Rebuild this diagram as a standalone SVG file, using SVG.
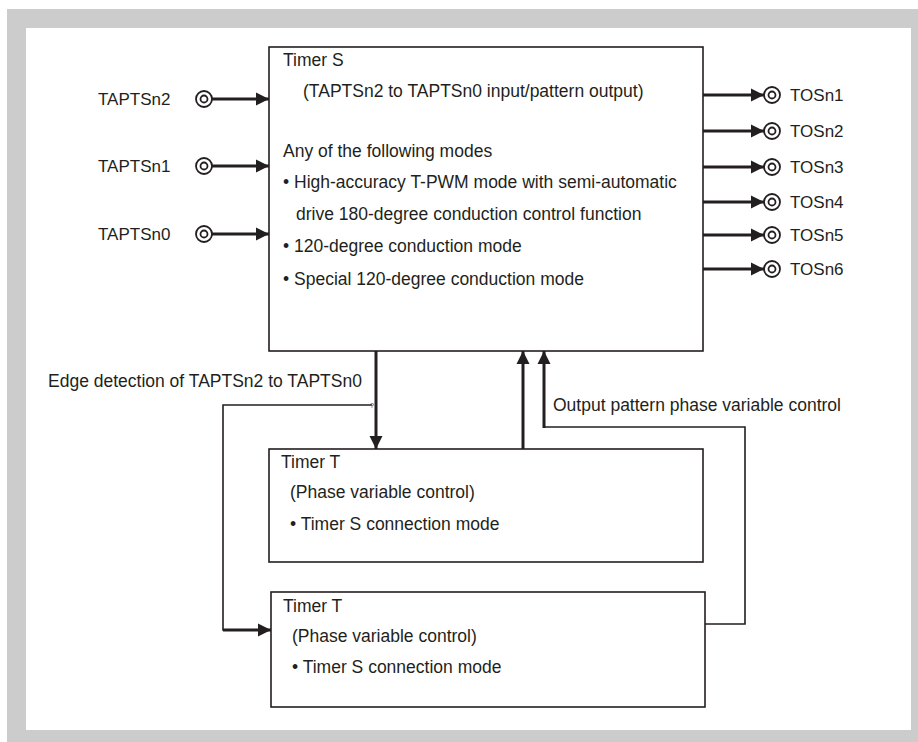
<svg xmlns="http://www.w3.org/2000/svg" width="918" height="742" viewBox="0 0 918 742">
<style>
.t{font-family:"Liberation Sans",Arial,sans-serif;font-size:17.5px;fill:#231f20}
.p{font-family:"Liberation Sans",Arial,sans-serif;font-size:17px;fill:#231f20}
.box{fill:#fff;stroke:#231f20;stroke-width:1.6}
.thick{stroke:#231f20;stroke-width:3;fill:none}
.thin{stroke:#231f20;stroke-width:1.6;fill:none}
.pin{fill:#fff;stroke:#231f20;stroke-width:1.8}
</style>
<defs>
<marker id="ah" markerUnits="userSpaceOnUse" markerWidth="14" markerHeight="14" refX="13" refY="7" orient="auto">
<path d="M0,0.5 L13,7 L0,13.5 z" fill="#231f20"/>
</marker>
</defs>
<rect x="7" y="9" width="911" height="733" fill="#cccccc"/>
<rect x="26" y="28" width="885" height="702" fill="#ffffff"/>

<g id="timer-s">
<rect class="box" x="269" y="47" width="434" height="304"/>
<text class="t" x="283" y="66">Timer S</text>
<text class="t" x="303" y="97">(TAPTSn2 to TAPTSn0 input/pattern output)</text>
<text class="t" x="283" y="157">Any of the following modes</text>
<text class="t" x="283" y="188">• High-accuracy T-PWM mode with semi-automatic</text>
<text class="t" x="296" y="220">drive 180-degree conduction control function</text>
<text class="t" x="283" y="252">• 120-degree conduction mode</text>
<text class="t" x="283" y="285">• Special 120-degree conduction mode</text>
</g>

<g id="timer-t1">
<rect class="box" x="269" y="449" width="434" height="113"/>
<text class="t" x="281" y="468">Timer T</text>
<text class="t" x="290" y="498">(Phase variable control)</text>
<text class="t" x="290" y="530">• Timer S connection mode</text>
</g>

<g id="timer-t2">
<rect class="box" x="271" y="592" width="434" height="115"/>
<text class="t" x="283" y="612">Timer T</text>
<text class="t" x="292" y="642">(Phase variable control)</text>
<text class="t" x="292" y="673">• Timer S connection mode</text>
</g>

<g id="in-taptsn2">
<text class="p" x="98" y="105">TAPTSn2</text>
<circle class="pin" cx="204" cy="99" r="8"/><circle class="pin" cx="204" cy="99" r="3.5"/>
</g>
<g id="in-taptsn1">
<text class="p" x="98" y="172">TAPTSn1</text>
<circle class="pin" cx="204" cy="166" r="8"/><circle class="pin" cx="204" cy="166" r="3.5"/>
</g>
<g id="in-taptsn0">
<text class="p" x="98" y="240">TAPTSn0</text>
<circle class="pin" cx="204" cy="234" r="8"/><circle class="pin" cx="204" cy="234" r="3.5"/>
</g>

<g id="out-tosn1"><circle class="pin" cx="772" cy="95" r="8"/><circle class="pin" cx="772" cy="95" r="3.5"/><text class="p" x="790" y="101">TOSn1</text></g>
<g id="out-tosn2"><circle class="pin" cx="772" cy="131" r="8"/><circle class="pin" cx="772" cy="131" r="3.5"/><text class="p" x="790" y="137">TOSn2</text></g>
<g id="out-tosn3"><circle class="pin" cx="772" cy="167" r="8"/><circle class="pin" cx="772" cy="167" r="3.5"/><text class="p" x="790" y="173">TOSn3</text></g>
<g id="out-tosn4"><circle class="pin" cx="772" cy="202" r="8"/><circle class="pin" cx="772" cy="202" r="3.5"/><text class="p" x="790" y="208">TOSn4</text></g>
<g id="out-tosn5"><circle class="pin" cx="772" cy="235" r="8"/><circle class="pin" cx="772" cy="235" r="3.5"/><text class="p" x="790" y="241">TOSn5</text></g>
<g id="out-tosn6"><circle class="pin" cx="772" cy="269" r="8"/><circle class="pin" cx="772" cy="269" r="3.5"/><text class="p" x="790" y="275">TOSn6</text></g>

<g id="connectors">
<line class="thick" x1="212" y1="99" x2="269" y2="99" marker-end="url(#ah)"/>
<line class="thick" x1="212" y1="166" x2="269" y2="166" marker-end="url(#ah)"/>
<line class="thick" x1="212" y1="234" x2="269" y2="234" marker-end="url(#ah)"/>

<line class="thick" x1="703" y1="95" x2="764" y2="95" marker-end="url(#ah)"/>
<line class="thick" x1="703" y1="131" x2="764" y2="131" marker-end="url(#ah)"/>
<line class="thick" x1="703" y1="167" x2="764" y2="167" marker-end="url(#ah)"/>
<line class="thick" x1="703" y1="202" x2="764" y2="202" marker-end="url(#ah)"/>
<line class="thick" x1="703" y1="235" x2="764" y2="235" marker-end="url(#ah)"/>
<line class="thick" x1="703" y1="269" x2="764" y2="269" marker-end="url(#ah)"/>

<line class="thick" x1="376" y1="351" x2="376" y2="449" marker-end="url(#ah)"/>
<line class="thick" x1="523" y1="449" x2="523" y2="351" marker-end="url(#ah)"/>

<polyline class="thin" points="372,405 223,405 223,630 236,630"/>
<line class="thick" x1="223" y1="630" x2="271" y2="630" marker-end="url(#ah)"/>

<polyline class="thin" points="705,624 745,624 745,427 544,427 544,400"/>
<line class="thick" x1="544" y1="428" x2="544" y2="351" marker-end="url(#ah)"/>

<text class="t" x="48" y="387">Edge detection of TAPTSn2 to TAPTSn0</text>
<text class="t" x="553" y="411">Output pattern phase variable control</text>
<text x="370" y="408" style="font-family:'Liberation Sans',Arial,sans-serif;font-size:7px;fill:#231f20">?</text>
</g>
</svg>
